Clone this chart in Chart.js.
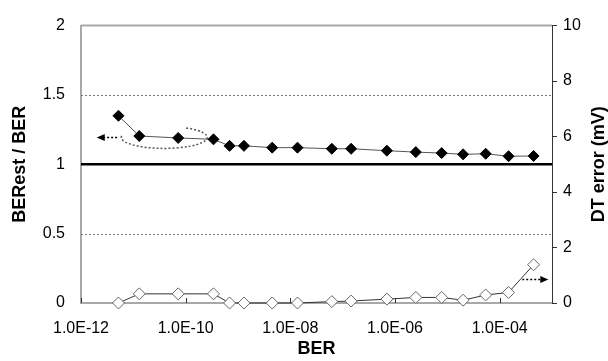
<!DOCTYPE html>
<html lang="en">
<head>
<meta charset="UTF-8">
<title>BERest / BER vs BER</title>
<script src="https://cdn.jsdelivr.net/npm/chart.js"></script>
<style>
  html, body { margin: 0; padding: 0; background: #fff; }
  #wrap { width: 608px; height: 361px; }
</style>
</head>
<body>
<div id="wrap"><canvas id="berChart" width="608" height="361"></canvas></div>

<script>
  // values
  const berValues = [5.2e-12, 1.3e-11, 7.2e-11, 3.4e-10, 6.9e-10, 1.3e-9, 4.5e-9, 1.37e-8, 6.2e-8,
                     1.45e-7, 7e-7, 2.5e-6, 7.8e-6, 2e-5, 5.4e-5, 1.48e-4, 4.45e-4];
  const berRatio  = [1.35, 1.204, 1.19, 1.18, 1.133, 1.133, 1.12, 1.12, 1.112,
                     1.112, 1.098, 1.088, 1.081, 1.072, 1.076, 1.058, 1.06];
  const dtError   = [0, 0.33, 0.33, 0.33, 0, 0, 0, 0, 0.05,
                     0.07, 0.14, 0.2, 0.2, 0.1, 0.29, 0.38, 1.38];

  const xTicks      = [1e-12, 1e-10, 1e-8, 1e-6, 1e-4];
  const xTickLabels = ['1.0E-12', '1.0E-10', '1.0E-08', '1.0E-06', '1.0E-04'];
  const leftTicks   = [0, 0.5, 1, 1.5, 2];
  const leftLabels  = ['0', '0.5', '1', '1.5', '2'];
  const rightTicks  = [0, 2, 4, 6, 8, 10];

  const FONT = "'Liberation Sans', Arial, sans-serif";

  // gridlines + annotations (ellipse and dotted arrows)
  const extras = {
    id: 'extras',
    beforeDatasetsDraw(chart) {
      const ctx = chart.ctx, a = chart.chartArea;
      const ys = chart.scales.y, xs = chart.scales.x;
      ctx.save();
      [0.5, 1.5].forEach(v => {
        const py = Math.round(ys.getPixelForValue(v)) + 0.5;
        ctx.strokeStyle = '#777';
        ctx.lineWidth = 1;
        ctx.setLineDash([2, 2]);
        ctx.beginPath(); ctx.moveTo(a.left, py); ctx.lineTo(a.right, py); ctx.stroke();
      });
      ctx.setLineDash([]);
      // heavy line at 1
      let py = ys.getPixelForValue(1);
      ctx.strokeStyle = '#000'; ctx.lineWidth = 2.5;
      ctx.beginPath(); ctx.moveTo(a.left, py); ctx.lineTo(a.right, py); ctx.stroke();
      // top border
      py = ys.getPixelForValue(2);
      ctx.strokeStyle = '#a8a8a8'; ctx.lineWidth = 2;
      ctx.beginPath(); ctx.moveTo(a.left, py); ctx.lineTo(a.right, py); ctx.stroke();
      // little inward ticks on x axis
      ctx.strokeStyle = '#333'; ctx.lineWidth = 1;
      xTicks.forEach(v => {
        const px = Math.round(xs.getPixelForValue(v)) + 0.5;
        ctx.beginPath(); ctx.moveTo(px, a.bottom); ctx.lineTo(px, a.bottom - 5); ctx.stroke();
      });
      ctx.restore();
    },
    afterDatasetsDraw(chart) {
      const ctx = chart.ctx;
      const xs = chart.scales.x, ys = chart.scales.y, y2 = chart.scales.y2;

      function arrow(x0, x1, y) {
        ctx.strokeStyle = '#000'; ctx.fillStyle = '#000';
        ctx.lineWidth = 1.5; ctx.setLineDash([2, 2]);
        const dir = Math.sign(x1 - x0);
        ctx.beginPath(); ctx.moveTo(x0, y); ctx.lineTo(x1 - dir * 6, y); ctx.stroke();
        ctx.setLineDash([]);
        ctx.beginPath();
        ctx.moveTo(x1, y);
        ctx.lineTo(x1 - dir * 8, y - 3.5);
        ctx.lineTo(x1 - dir * 8, y + 3.5);
        ctx.closePath(); ctx.fill();
      }

      ctx.save();
      // dotted ellipse round the filled points
      const cx = xs.getPixelForValue(3.9e-11), cy = ys.getPixelForValue(1.194);
      ctx.strokeStyle = '#555'; ctx.lineWidth = 1.5; ctx.setLineDash([2, 2]);
      ctx.beginPath();
      ctx.ellipse(cx, cy, 43, 11, 0, 3.28, -1.05, true);
      ctx.stroke();
      arrow(xs.getPixelForValue(4.9e-12), xs.getPixelForValue(2e-12), ys.getPixelForValue(1.194));
      arrow(xs.getPixelForValue(2.7e-4), xs.getPixelForValue(8.5e-4), y2.getPixelForValue(0.85));

      // right axis title, reading upwards
      ctx.setLineDash([]);
      ctx.fillStyle = '#000';
      ctx.font = 'bold 18px ' + FONT;
      ctx.textAlign = 'center'; ctx.textBaseline = 'middle';
      ctx.translate(599, (chart.chartArea.top + chart.chartArea.bottom) / 2);
      ctx.rotate(-Math.PI / 2);
      ctx.fillText('DT error (mV)', 0, 0);
      ctx.restore();
    }
  };

  const config = {
    type: 'line',
    data: {
      datasets: [
        {
          label: 'BERest / BER',
          data: berValues.map((b, i) => ({ x: b, y: berRatio[i] })),
          yAxisID: 'y',
          borderColor: '#555',
          borderWidth: 1,
          pointStyle: 'rectRot',
          pointRadius: 5.5,
          pointBackgroundColor: '#000',
          pointBorderColor: '#000',
          pointBorderWidth: 1,
          tension: 0,
          clip: false
        },
        {
          label: 'DT error',
          data: berValues.map((b, i) => ({ x: b, y: dtError[i] })),
          yAxisID: 'y2',
          borderColor: '#333',
          borderWidth: 1,
          pointStyle: 'rectRot',
          pointRadius: 6,
          pointBackgroundColor: '#fff',
          pointBorderColor: '#666',
          pointBorderWidth: 1,
          tension: 0,
          clip: false
        }
      ]
    },
    options: {
      responsive: false,
      animation: false,
      devicePixelRatio: 1,
      layout: { padding: { top: 20, left: 0, right: 0, bottom: 0 } },
      plugins: { legend: { display: false }, tooltip: { enabled: false } },
      scales: {
        x: {
          type: 'logarithmic',
          position: 'bottom',
          min: 1e-12,
          max: 1e-3,
          afterBuildTicks: s => { s.ticks = xTicks.map(v => ({ value: v, major: true })); },
          afterFit: s => { s.height = 58; },
          ticks: {
            autoSkip: false,
            maxRotation: 0,
            padding: 16,
            color: '#000',
            font: { family: FONT, size: 16 },
            callback: (v, i) => xTickLabels[i]
          },
          grid: { drawOnChartArea: false, drawTicks: false },
          border: { color: '#a8a8a8', width: 2 },
          title: {
            display: true, text: 'BER', color: '#000',
            font: { family: FONT, size: 18, weight: 'bold', lineHeight: 1 },
            padding: { top: 0, bottom: 3 }
          }
        },
        y: {
          position: 'left',
          min: 0, max: 2,
          afterBuildTicks: s => { s.ticks = leftTicks.map(v => ({ value: v })); },
          afterFit: s => { s.width = 81; },
          ticks: {
            padding: 16, color: '#000',
            font: { family: FONT, size: 16 },
            callback: (v, i) => leftLabels[i]
          },
          grid: { drawOnChartArea: false, drawTicks: false },
          border: { color: '#a8a8a8', width: 2 },
          title: {
            display: true, text: 'BERest / BER', color: '#000',
            font: { family: FONT, size: 18, weight: 'bold', lineHeight: 1 },
            padding: { top: 11, bottom: 0 }
          }
        },
        y2: {
          position: 'right',
          min: 0, max: 10,
          afterBuildTicks: s => { s.ticks = rightTicks.map(v => ({ value: v })); },
          afterFit: s => { s.width = 56; },
          ticks: {
            padding: 6, color: '#000',
            font: { family: FONT, size: 16 }
          },
          grid: { drawOnChartArea: false, drawTicks: true, tickLength: 5, tickColor: '#333' },
          border: { color: '#333', width: 1 }
        }
      }
    },
    plugins: [extras]
  };

  new Chart(document.getElementById('berChart'), config);
</script>
</body>
</html>
